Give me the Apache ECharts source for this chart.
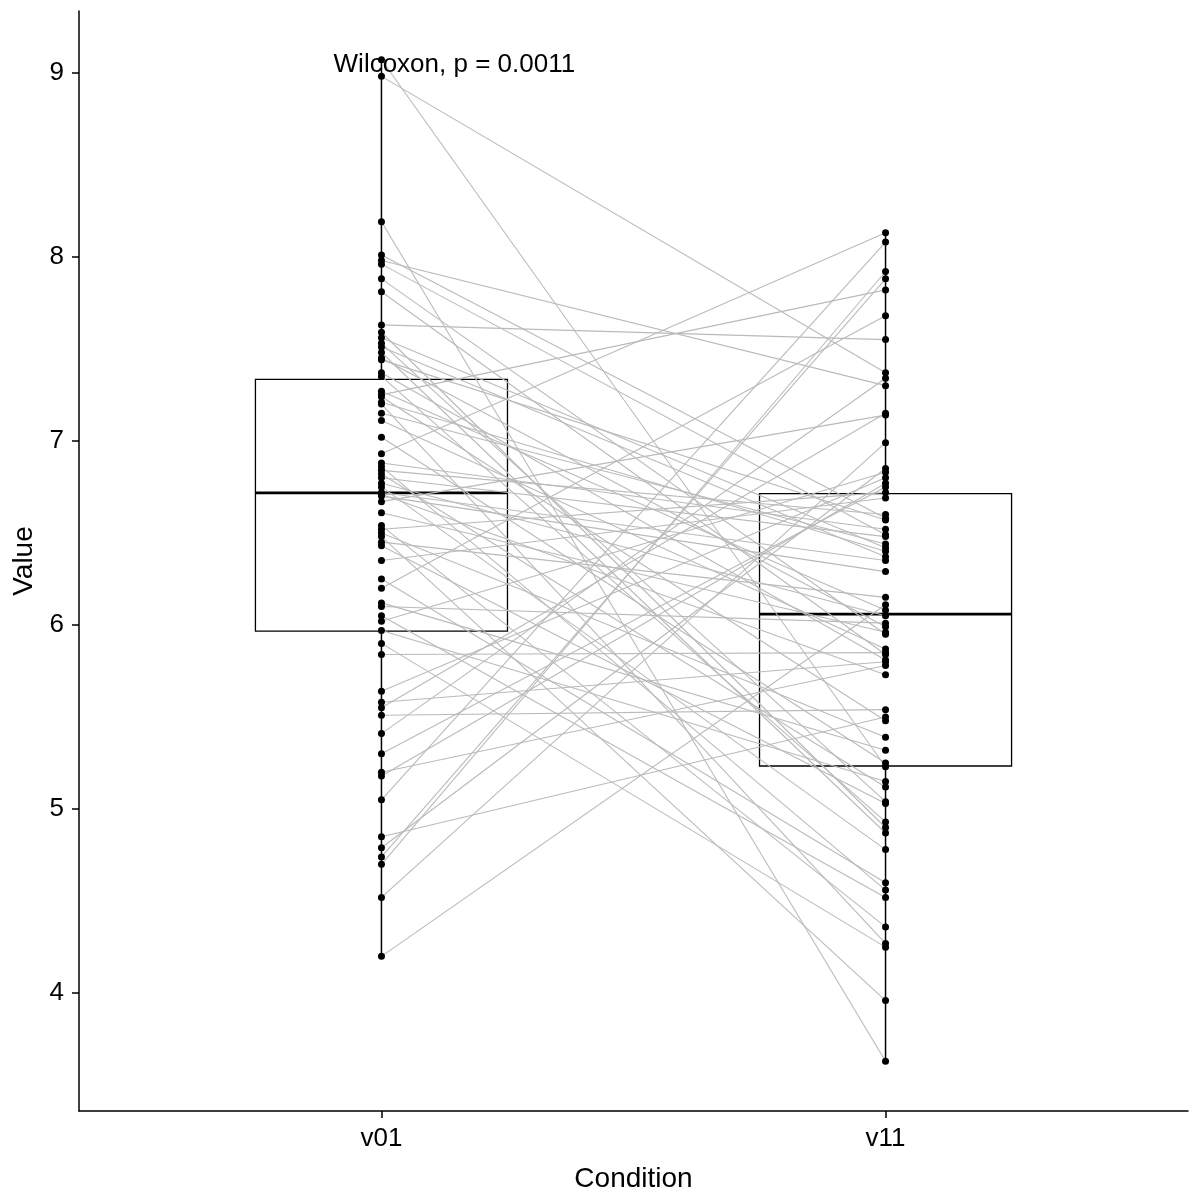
<!DOCTYPE html>
<html><head><meta charset="utf-8">
<script src="https://cdn.jsdelivr.net/npm/echarts@6/dist/echarts.min.js"></script>
<style>html,body{margin:0;padding:0;background:#fff}#c{width:1197px;height:1198px}</style>
</head><body><div id="c"></div>
<script>
// ---- data ----
const categories = ['v01', 'v11'];
// paired values (same index = same subject)
const v01 = [9.07, 8.98, 8.19, 8.01, 7.98, 7.96, 7.88, 7.81, 7.63, 7.59,
             7.56, 7.53, 7.51, 7.48, 7.45, 7.44, 7.37, 7.35, 7.27, 7.25,
             7.24, 7.21, 7.20, 7.15, 7.11, 7.02, 6.93, 6.88, 6.86, 6.84,
             6.82, 6.80, 6.77, 6.75, 6.72, 6.71, 6.70, 6.67, 6.61, 6.54,
             6.52, 6.50, 6.48, 6.45, 6.43, 6.35, 6.25, 6.20, 6.12, 6.10,
             6.05, 6.02, 5.97, 5.90, 5.84, 5.64, 5.58, 5.55, 5.51, 5.41,
             5.30, 5.20, 5.18, 5.05, 4.85, 4.79, 4.74, 4.70, 4.52, 4.20];
const v11 = [5.23, 7.37, 3.63, 6.58, 7.30, 6.49, 5.95, 5.84, 7.55, 4.90,
             6.42, 5.04, 6.37, 4.87, 5.99, 6.57, 5.81, 4.93, 6.08, 7.82,
             5.48, 6.40, 4.27, 6.44, 5.87, 5.25, 8.13, 6.52, 4.56, 6.60,
             5.12, 6.48, 6.05, 4.78, 6.35, 5.73, 6.29, 7.14, 5.96, 4.36,
             6.72, 5.39, 3.96, 6.15, 5.03, 6.69, 4.60, 7.68, 5.32, 6.01,
             4.52, 6.83, 5.15, 4.25, 5.85, 6.80, 5.80, 7.15, 5.54, 7.34,
             6.75, 5.78, 6.77, 8.08, 5.50, 6.85, 7.88, 7.92, 6.99, 6.11];
// box statistics [min, Q1, median, Q3, max]
const boxV01 = [4.20, 5.967, 6.717, 7.334, 9.07];
const boxV11 = [3.63, 5.234, 6.059, 6.714, 8.13];
const yTicks = [4, 5, 6, 7, 8, 9];
const xTicks = [1, 2];
const annotationText = 'Wilcoxon, p = 0.0011';

// ---- chart ----
const FONT = '"Liberation Sans", Arial, sans-serif';
const chart = echarts.init(document.getElementById('c'), null, {renderer: 'canvas'});

const boxData = [[1].concat(boxV01), [2].concat(boxV11)];
const pairData = v01.map((a, i) => [a, v11[i]]);
const pointData = v01.map(v => [1, v]).concat(v11.map(v => [2, v]));

const BOX_HALF = 0.25;

chart.setOption({
  animation: false,
  backgroundColor: '#ffffff',
  grid: {left: 79, right: 9, top: 11, bottom: 87, containLabel: false},
  xAxis: {
    type: 'value', min: 0.4, max: 2.6,
    name: 'Condition', nameLocation: 'middle', nameGap: 54,
    nameTextStyle: {fontFamily: FONT, fontSize: 28, color: '#000'},
    axisLine: {show: true, lineStyle: {color: '#000', width: 1.5}},
    axisTick: {show: true, length: 7, customValues: xTicks, lineStyle: {color: '#000', width: 1.5}},
    axisLabel: {customValues: xTicks, margin: 15, fontFamily: FONT, fontSize: 26, color: '#000',
                formatter: v => categories[Math.round(v) - 1] || ''},
    splitLine: {show: false}
  },
  yAxis: {
    type: 'value', min: 3.36, max: 9.335,
    name: 'Value', nameLocation: 'middle', nameGap: 36,
    nameTextStyle: {fontFamily: FONT, fontSize: 28, color: '#000'},
    axisLine: {show: true, lineStyle: {color: '#000', width: 1.5}},
    axisTick: {show: true, length: 7, customValues: yTicks, lineStyle: {color: '#000', width: 1.5}},
    axisLabel: {customValues: yTicks, margin: 15, fontFamily: FONT, fontSize: 26, color: '#000'},
    splitLine: {show: false}
  },
  series: [
    {
      type: 'custom', name: 'box', z: 1,
      data: boxData,
      renderItem: function (params, api) {
        const x = api.value(0);
        const pMin = api.coord([x, api.value(1)]);
        const pQ1 = api.coord([x, api.value(2)]);
        const pMed = api.coord([x, api.value(3)]);
        const pQ3 = api.coord([x, api.value(4)]);
        const pMax = api.coord([x, api.value(5)]);
        const l = api.coord([x - BOX_HALF, api.value(3)])[0];
        const r = api.coord([x + BOX_HALF, api.value(3)])[0];
        const st = {stroke: '#000', lineWidth: 1.5, fill: null};
        return {
          type: 'group',
          children: [
            {type: 'line', shape: {x1: pMax[0], y1: pMax[1], x2: pQ3[0], y2: pQ3[1]}, style: st},
            {type: 'line', shape: {x1: pQ1[0], y1: pQ1[1], x2: pMin[0], y2: pMin[1]}, style: st},
            {type: 'rect', shape: {x: l, y: pQ3[1], width: r - l, height: pQ1[1] - pQ3[1]},
             style: {stroke: '#000', lineWidth: 1.3, fill: '#fff'}},
            {type: 'line', shape: {x1: l, y1: pMed[1], x2: r, y2: pMed[1]},
             style: {stroke: '#000', lineWidth: 2.8}}
          ]
        };
      }
    },
    {
      type: 'custom', name: 'pairs', z: 2,
      data: pairData,
      encode: {x: -1, y: [0, 1]},
      renderItem: function (params, api) {
        const a = api.coord([1, api.value(0)]);
        const b = api.coord([2, api.value(1)]);
        return {type: 'line', shape: {x1: a[0], y1: a[1], x2: b[0], y2: b[1]},
                style: {stroke: '#bababa', lineWidth: 1.1}};
      }
    },
    {
      type: 'scatter', name: 'points', z: 3,
      data: pointData,
      symbol: 'circle', symbolSize: 7,
      itemStyle: {color: '#000', opacity: 1}
    },
    {
      type: 'custom', name: 'annotation', z: 4,
      data: [[0.905, 9.04]],
      renderItem: function (params, api) {
        const p = api.coord([api.value(0), api.value(1)]);
        return {type: 'text', x: p[0], y: p[1],
                style: {text: annotationText, fill: '#000', fontFamily: FONT, fontSize: 26,
                        align: 'left', verticalAlign: 'middle'}};
      }
    }
  ]
});
</script>
</body></html>
